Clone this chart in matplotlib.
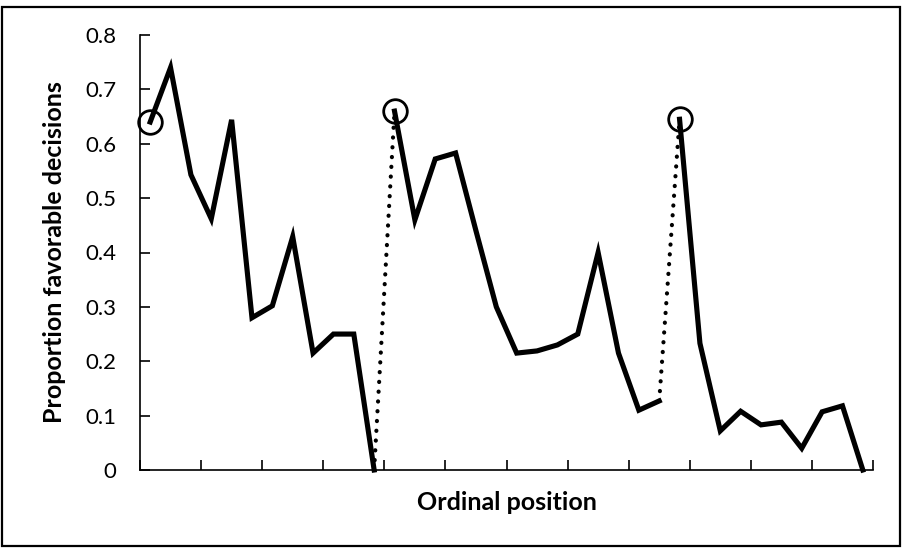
import matplotlib
matplotlib.use('Agg')
import matplotlib.pyplot as plt
from matplotlib.patches import Rectangle

# proportion of favorable decisions, one value per ordinal position
seg1 = [0.64, 0.74, 0.543, 0.462, 0.644, 0.28, 0.302, 0.429, 0.215, 0.25, 0.25, 0.0]
seg2 = [0.66, 0.46, 0.572, 0.583, 0.44, 0.30, 0.215, 0.219, 0.23, 0.25, 0.40, 0.215,
        0.11, 0.127]
seg3 = [0.645, 0.233, 0.072, 0.108, 0.083, 0.088, 0.04, 0.107, 0.118, 0.0]

y_ticks = [0, 0.1, 0.2, 0.3, 0.4, 0.5, 0.6, 0.7, 0.8]
y_labels = ['0', '0.1', '0.2', '0.3', '0.4', '0.5', '0.6', '0.7', '0.8']

plt.rcParams['font.family'] = ['Lato', 'DejaVu Sans']

fig = plt.figure(figsize=(9.05, 5.49), dpi=100)
ax = fig.add_axes([140 / 905, 79 / 549, 733 / 905, 435 / 549])

# border around the whole chart
fig.patches.append(Rectangle((2 / 905, 3 / 549), 898 / 905, 539 / 549,
                             transform=fig.transFigure, fill=False,
                             edgecolor='black', linewidth=1.6))

segments = [seg1, seg2, seg3]
start = 1
ends = []
for seg in segments:
    xs = list(range(start, start + len(seg)))
    ax.plot(xs, seg, color='black', linewidth=3.7, solid_joinstyle='miter')
    # hollow circle on the first point of each session
    ax.plot(xs[0], seg[0], marker='o', markersize=17, markerfacecolor='none',
            markeredgecolor='black', markeredgewidth=2.0, linestyle='none')
    ends.append((xs[0], seg[0], xs[-1], seg[-1]))
    start += len(seg)

# dotted connectors between sessions (food break)
for i in range(len(ends) - 1):
    x0, y0 = ends[i][2], ends[i][3]
    x1, y1 = ends[i + 1][0], ends[i + 1][1]
    ax.plot([x0, x1], [y0, y1], color='black', linewidth=3.0,
            linestyle=(0, (0.05, 2.3)), dash_capstyle='round')

n = start - 1
ax.set_xlim(0.5, n + 0.5)
ax.set_ylim(0, 0.8)
ax.set_xticks([0.5 + 3 * k for k in range(n // 3 + 1)])
ax.set_xticklabels([])
ax.set_yticks(y_ticks)
ax.set_yticklabels(y_labels)
ax.tick_params(direction='in', length=7, width=1.2, labelsize=16)
ax.tick_params(axis='x', pad=1)
ax.tick_params(axis='y', pad=17)

for s in ['top', 'right']:
    ax.spines[s].set_visible(False)
for s in ['left', 'bottom']:
    ax.spines[s].set_linewidth(1.2)

ax.set_xlabel('Ordinal position', fontsize=18, fontweight='bold', labelpad=14)
ax.set_ylabel('Proportion favorable decisions', fontsize=18, fontweight='bold',
              labelpad=14)
for c in ax.get_children():
    if hasattr(c, 'set_clip_on'):
        c.set_clip_on(False)

fig.savefig('out.png', dpi=100)
